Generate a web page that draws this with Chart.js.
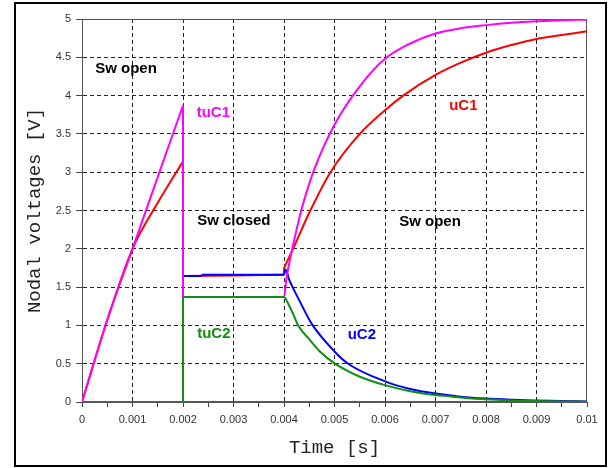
<!DOCTYPE html>
<html>
<head>
<meta charset="utf-8">
<script src="https://cdn.jsdelivr.net/npm/chart.js@4"></script>
<style>
  body { margin: 0; background: #fff; }
  #wrap { position: relative; width: 611px; height: 468px; }
  #frame { position: absolute; left: 14px; top: 2px; width: 593px; height: 465px;
           box-sizing: border-box; border: 2px solid #000; pointer-events: none; }
  canvas { position: absolute; left: 0; top: 0; }
</style>
</head>
<body>
<div id="wrap">
  <canvas id="chart" width="611" height="468"></canvas>
  <div id="frame"></div>
</div>
<script>
// values (time in s, voltage in V)
// a repeated time means a vertical jump at the switching instant
var tuC1Time = [0, 0.0005, 0.001, 0.0015, 0.002, 0.002, 0.004, 0.00405, 0.0041, 0.00417, 0.00435, 0.00459, 0.005, 0.0055, 0.006, 0.0065, 0.007, 0.0075, 0.008, 0.0085, 0.009, 0.0095, 0.01];
var tuC1Volt = [0, 1.07, 2.0, 2.94, 3.87, 1.37, 1.37, 1.62, 1.8, 2.02, 2.52, 3.02, 3.62, 4.12, 4.48, 4.68, 4.81, 4.88, 4.92, 4.95, 4.97, 4.985, 4.99];

var uC1Time = [0, 0.0005, 0.001, 0.0015, 0.002, 0.002, 0.004, 0.004, 0.00418, 0.0045, 0.00492, 0.0055, 0.006, 0.00636, 0.007, 0.0075, 0.008, 0.0085, 0.009, 0.0095, 0.01];
var uC1Volt = [0, 1.07, 2.0, 2.6, 3.14, 1.645, 1.66, 1.75, 2.0, 2.47, 3.0, 3.5, 3.81, 4.0, 4.27, 4.43, 4.56, 4.66, 4.74, 4.79, 4.84];

var uC2Time = [0, 0.002, 0.002, 0.00237, 0.00237, 0.004, 0.00403, 0.0041, 0.0042, 0.0043, 0.00455, 0.005, 0.00527, 0.006, 0.0065, 0.007, 0.0075, 0.008, 0.0085, 0.009, 0.0095, 0.01];
var uC2Volt = [0, 0, 1.645, 1.645, 1.66, 1.66, 1.73, 1.6, 1.46, 1.33, 1.02, 0.66, 0.5, 0.27, 0.17, 0.11, 0.07, 0.045, 0.03, 0.02, 0.012, 0.008];

var tuC2Time = [0, 0.002, 0.002, 0.004, 0.0041, 0.0042, 0.00428, 0.0045, 0.00471, 0.00501, 0.0055, 0.006, 0.0065, 0.007, 0.0075, 0.008, 0.0085, 0.009, 0.0095, 0.01];
var tuC2Volt = [0, 0, 1.37, 1.37, 1.26, 1.12, 1.0, 0.82, 0.66, 0.5, 0.33, 0.22, 0.14, 0.09, 0.06, 0.035, 0.02, 0.012, 0.007, 0.004];

var xTickLabels = ['0', '0.001', '0.002', '0.003', '0.004', '0.005', '0.006', '0.007', '0.008', '0.009', '0.01'];
var yTickLabels = ['0', '0.5', '1', '1.5', '2', '2.5', '3', '3.5', '4', '4.5', '5'];

// text notes inside the plot
var noteTexts = ['Sw open', 'tuC1', 'Sw closed', 'uC1', 'Sw open', 'tuC2', 'uC2'];
var noteTime = [0.00026, 0.00227, 0.00228, 0.00727, 0.00628, 0.00228, 0.00526];
var noteVolt = [4.35, 3.77, 2.36, 3.86, 2.35, 0.89, 0.87];
var noteColors = ['#000000', '#ff00ff', '#000000', '#ff0000', '#000000', '#109010', '#0000ff'];

// split a series at its jumps: smooth runs + straight vertical pieces
function series(label, times, volts, color, order) {
    var out = [];
    var run = [];
    function make(points, smooth) {
        return {
            label: label,
            data: points,
            borderColor: color,
            backgroundColor: color,
            borderWidth: 2,
            pointRadius: 0,
            cubicInterpolationMode: smooth ? 'monotone' : 'default',
            tension: 0,
            fill: false,
            order: order
        };
    }
    for (var i = 0; i < times.length; i++) {
        if (i > 0 && times[i] === times[i - 1]) {
            if (run.length > 1) out.push(make(run, true));
            out.push(make([{x: times[i - 1], y: volts[i - 1]}, {x: times[i], y: volts[i]}], false));
            run = [];
        }
        run.push({x: times[i], y: volts[i]});
    }
    if (run.length > 1) out.push(make(run, true));
    return out;
}

// gray box round the plot area
var framePlugin = {
    id: 'frame',
    beforeDatasetsDraw: function(chart) {
        var a = chart.chartArea, ctx = chart.ctx;
        ctx.save();
        ctx.strokeStyle = '#555';
        ctx.lineWidth = 1;
        ctx.strokeRect(Math.round(a.left) + 0.5, Math.round(a.top) + 0.5,
                       Math.round(a.right - a.left) - 1, Math.round(a.bottom - a.top) - 1);
        ctx.restore();
    }
};

var notesPlugin = {
    id: 'notes',
    afterDatasetsDraw: function(chart) {
        var ctx = chart.ctx, xs = chart.scales.x, ys = chart.scales.y;
        ctx.save();
        ctx.font = 'bold 15px "Liberation Sans", Arial, sans-serif';
        ctx.textAlign = 'left';
        ctx.textBaseline = 'middle';
        noteTexts.forEach(function(txt, i) {
            ctx.fillStyle = noteColors[i];
            ctx.fillText(txt, xs.getPixelForValue(noteTime[i]), ys.getPixelForValue(noteVolt[i]));
        });
        ctx.restore();
    }
};

var tickFont = { family: '"Liberation Sans", Arial, sans-serif', size: 11 };
var titleFont = { family: '"Liberation Mono", monospace', size: 19 };

var datasets = []
    .concat(series('tuC2', tuC2Time, tuC2Volt, '#109010', 0))
    .concat(series('tuC1', tuC1Time, tuC1Volt, '#ff00ff', 1))
    .concat(series('uC2', uC2Time, uC2Volt, '#0000ff', 2))
    .concat(series('uC1', uC1Time, uC1Volt, '#ff0000', 3));

var chart = new Chart(document.getElementById('chart').getContext('2d'), {
    type: 'line',
    data: { datasets: datasets },
    options: {
        responsive: false,
        animation: false,
        devicePixelRatio: 1,
        layout: { padding: { top: 19, right: 24, left: 0, bottom: 0 } },
        plugins: {
            legend: { display: false },
            tooltip: { enabled: false }
        },
        scales: {
            x: {
                type: 'linear',
                min: 0,
                max: 0.01,
                afterBuildTicks: function(scale) {
                    var ticks = [];
                    for (var i = 0; i <= 20; i++) ticks.push({ value: i * 0.0005 });
                    scale.ticks = ticks;
                },
                afterFit: function(scale) { scale.height = 66; },
                ticks: {
                    autoSkip: false,
                    maxRotation: 0,
                    padding: 6,
                    color: '#333',
                    font: tickFont,
                    callback: function(value, index) {
                        return index % 2 === 0 ? xTickLabels[index / 2] : '';
                    }
                },
                grid: {
                    color: function(ctx) {
                        if (ctx.index % 2 === 1 || ctx.index === 0 || ctx.index === 20) return 'rgba(0,0,0,0)';
                        return '#222';
                    },
                    tickColor: '#444',
                    tickLength: 5,
                    lineWidth: 1
                },
                border: { display: true, color: '#555', width: 1, dash: [4, 3] },
                title: {
                    display: true,
                    text: 'Time [s]',
                    color: '#222',
                    font: titleFont,
                    padding: { top: 0, bottom: 9 }
                }
            },
            y: {
                min: 0,
                max: 5,
                afterFit: function(scale) { scale.width = 82; },
                ticks: {
                    stepSize: 0.5,
                    padding: 5,
                    color: '#333',
                    font: tickFont,
                    callback: function(value, index) { return yTickLabels[index]; }
                },
                grid: {
                    color: function(ctx) {
                        if (ctx.index === 0 || ctx.index === 10) return 'rgba(0,0,0,0)';
                        return '#222';
                    },
                    tickColor: '#444',
                    tickLength: 6,
                    lineWidth: 1
                },
                border: { display: true, color: '#555', width: 1, dash: [4, 3] },
                title: {
                    display: true,
                    text: 'Nodal voltages [V]',
                    color: '#222',
                    font: titleFont,
                    padding: { top: 24, bottom: 0 }
                }
            }
        }
    },
    plugins: [framePlugin, notesPlugin]
});
</script>
</body>
</html>
